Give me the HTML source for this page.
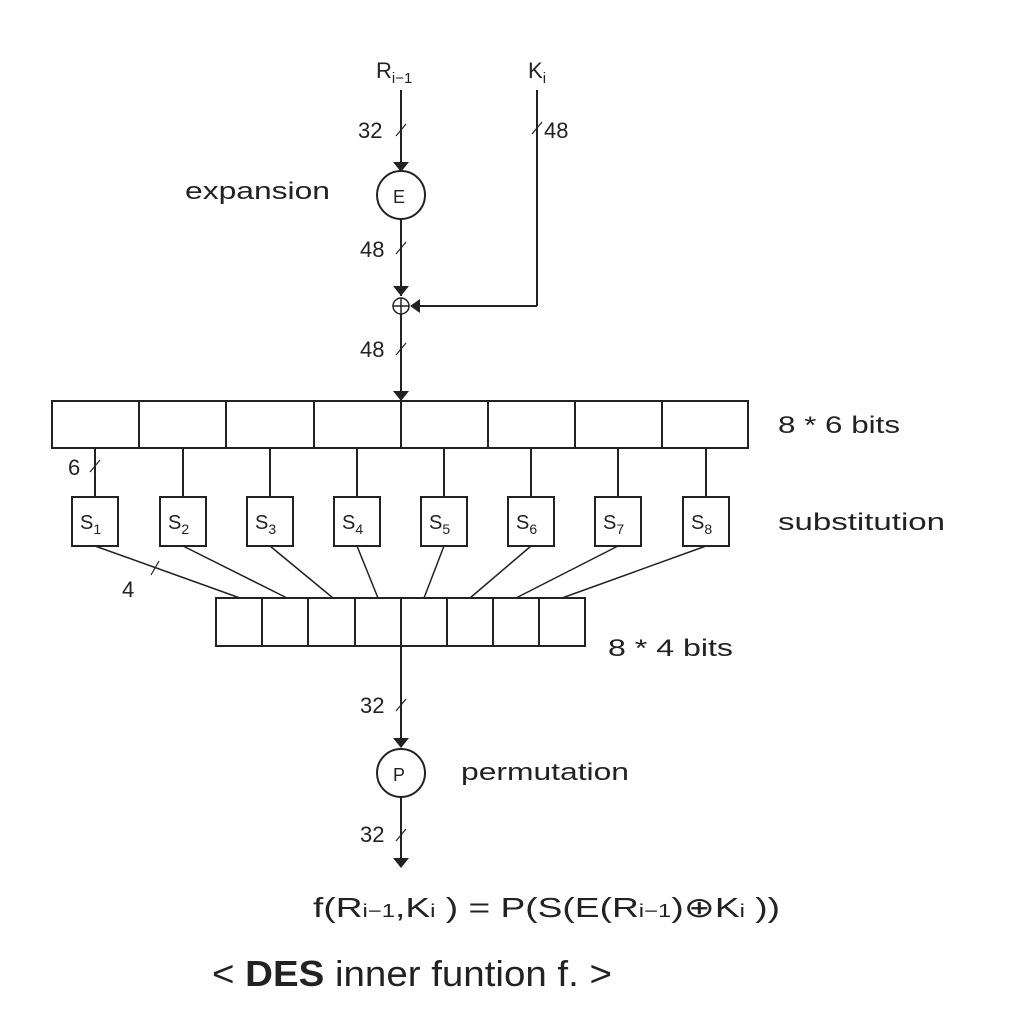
<!DOCTYPE html>
<html><head><meta charset="utf-8"><style>
html,body{margin:0;padding:0;background:#fff;}
svg{display:block;}
text{font-family:"Liberation Sans",sans-serif;fill:#222;}
</style></head><body>
<svg width="1014" height="1016" viewBox="0 0 1014 1016" xmlns="http://www.w3.org/2000/svg">
<g stroke="#222" stroke-width="2" fill="none">
  <line x1="401" y1="90" x2="401" y2="170"/>
  <circle cx="401" cy="195" r="24"/>
  <line x1="401" y1="219" x2="401" y2="296"/>
  <circle cx="401" cy="306" r="8" stroke-width="1.5"/>
  <line x1="393" y1="306" x2="409" y2="306" stroke-width="1.5"/>
  <line x1="401" y1="298" x2="401" y2="314" stroke-width="1.5"/>
  <line x1="401" y1="314" x2="401" y2="401"/>
  <line x1="537" y1="90" x2="537" y2="306"/>
  <line x1="537" y1="306" x2="412" y2="306"/>
  <line x1="396" y1="136" x2="406" y2="124" stroke-width="1.2"/>
  <line x1="532" y1="134" x2="542" y2="122" stroke-width="1.2"/>
  <line x1="396" y1="254" x2="406" y2="242" stroke-width="1.2"/>
  <line x1="396" y1="355" x2="406" y2="343" stroke-width="1.2"/>
  <line x1="90" y1="472" x2="100" y2="460" stroke-width="1.2"/>
  <line x1="151" y1="575" x2="159" y2="561" stroke-width="1.2"/>
  <line x1="396" y1="711" x2="406" y2="699" stroke-width="1.2"/>
  <line x1="396" y1="841" x2="406" y2="829" stroke-width="1.2"/>
  <rect x="52" y="401" width="696" height="47"/>
  <line x1="139" y1="401" x2="139" y2="448"/>
  <line x1="226" y1="401" x2="226" y2="448"/>
  <line x1="314" y1="401" x2="314" y2="448"/>
  <line x1="401" y1="401" x2="401" y2="448"/>
  <line x1="488" y1="401" x2="488" y2="448"/>
  <line x1="575" y1="401" x2="575" y2="448"/>
  <line x1="662" y1="401" x2="662" y2="448"/>
  <line x1="95" y1="448" x2="95" y2="497"/>
  <line x1="183" y1="448" x2="183" y2="497"/>
  <line x1="270" y1="448" x2="270" y2="497"/>
  <line x1="357" y1="448" x2="357" y2="497"/>
  <line x1="444" y1="448" x2="444" y2="497"/>
  <line x1="531" y1="448" x2="531" y2="497"/>
  <line x1="618" y1="448" x2="618" y2="497"/>
  <line x1="706" y1="448" x2="706" y2="497"/>
  <rect x="72" y="497" width="46" height="49"/>
  <rect x="160" y="497" width="46" height="49"/>
  <rect x="247" y="497" width="46" height="49"/>
  <rect x="334" y="497" width="46" height="49"/>
  <rect x="421" y="497" width="46" height="49"/>
  <rect x="508" y="497" width="46" height="49"/>
  <rect x="595" y="497" width="46" height="49"/>
  <rect x="683" y="497" width="46" height="49"/>
  <g stroke-width="1.5">
  <line x1="95" y1="546" x2="240" y2="598"/>
  <line x1="183" y1="546" x2="287" y2="598"/>
  <line x1="270" y1="546" x2="333" y2="598"/>
  <line x1="357" y1="546" x2="378" y2="598"/>
  <line x1="444" y1="546" x2="424" y2="598"/>
  <line x1="531" y1="546" x2="470" y2="598"/>
  <line x1="618" y1="546" x2="516" y2="598"/>
  <line x1="706" y1="546" x2="562" y2="598"/>
  </g>
  <rect x="216" y="598" width="369" height="48"/>
  <line x1="262" y1="598" x2="262" y2="646"/>
  <line x1="308" y1="598" x2="308" y2="646"/>
  <line x1="355" y1="598" x2="355" y2="646"/>
  <line x1="401" y1="598" x2="401" y2="646"/>
  <line x1="447" y1="598" x2="447" y2="646"/>
  <line x1="493" y1="598" x2="493" y2="646"/>
  <line x1="539" y1="598" x2="539" y2="646"/>
  <line x1="401" y1="646" x2="401" y2="747"/>
  <circle cx="401" cy="773" r="24"/>
  <line x1="401" y1="797" x2="401" y2="860"/>
</g>
<g fill="#222">
  <polygon points="393,162 409,162 401,172"/>
  <polygon points="393,286 409,286 401,296"/>
  <polygon points="393,391 409,391 401,401"/>
  <polygon points="420,299 420,313 410,306"/>
  <polygon points="393,738 409,738 401,748"/>
  <polygon points="393,858 409,858 401,868"/>
</g>
<g font-size="22">
  <text x="376" y="78">R<tspan font-size="15" dy="5">i−1</tspan></text>
  <text x="528" y="78">K<tspan font-size="15" dy="5">i</tspan></text>
  <text x="358" y="138">32</text>
  <text x="544" y="138">48</text>
  <text x="185" y="199" font-size="24" textLength="145" lengthAdjust="spacingAndGlyphs">expansion</text>
  <text x="393" y="203" font-size="18">E</text>
  <text x="360" y="257">48</text>
  <text x="360" y="357">48</text>
  <text x="778" y="433" font-size="24" textLength="122" lengthAdjust="spacingAndGlyphs">8 * 6 bits</text>
  <text x="68" y="475">6</text>
  <text x="122" y="597">4</text>
  <text x="778" y="530" font-size="24" textLength="167" lengthAdjust="spacingAndGlyphs">substitution</text>
  <text x="608" y="656" font-size="24" textLength="125" lengthAdjust="spacingAndGlyphs">8 * 4 bits</text>
  <text x="360" y="713">32</text>
  <text x="393" y="781" font-size="18">P</text>
  <text x="461" y="780" font-size="24" textLength="168" lengthAdjust="spacingAndGlyphs">permutation</text>
  <text x="360" y="842">32</text>
</g>
<g font-size="20">
  <text x="80" y="529">S<tspan font-size="14" dy="5">1</tspan></text>
  <text x="168" y="529">S<tspan font-size="14" dy="5">2</tspan></text>
  <text x="255" y="529">S<tspan font-size="14" dy="5">3</tspan></text>
  <text x="342" y="529">S<tspan font-size="14" dy="5">4</tspan></text>
  <text x="429" y="529">S<tspan font-size="14" dy="5">5</tspan></text>
  <text x="516" y="529">S<tspan font-size="14" dy="5">6</tspan></text>
  <text x="603" y="529">S<tspan font-size="14" dy="5">7</tspan></text>
  <text x="691" y="529">S<tspan font-size="14" dy="5">8</tspan></text>
</g>
<text x="313" y="917" font-size="28" textLength="467" lengthAdjust="spacingAndGlyphs">f(R<tspan font-size="18">i−1</tspan>,K<tspan font-size="18">i</tspan> ) = P(S(E(R<tspan font-size="18">i−1</tspan>)⊕K<tspan font-size="18">i</tspan> ))</text>
<text x="212" y="986" font-size="36" textLength="400" lengthAdjust="spacingAndGlyphs">&lt; <tspan font-weight="bold">DES</tspan> inner funtion f. &gt;</text>
</svg>
</body></html>
